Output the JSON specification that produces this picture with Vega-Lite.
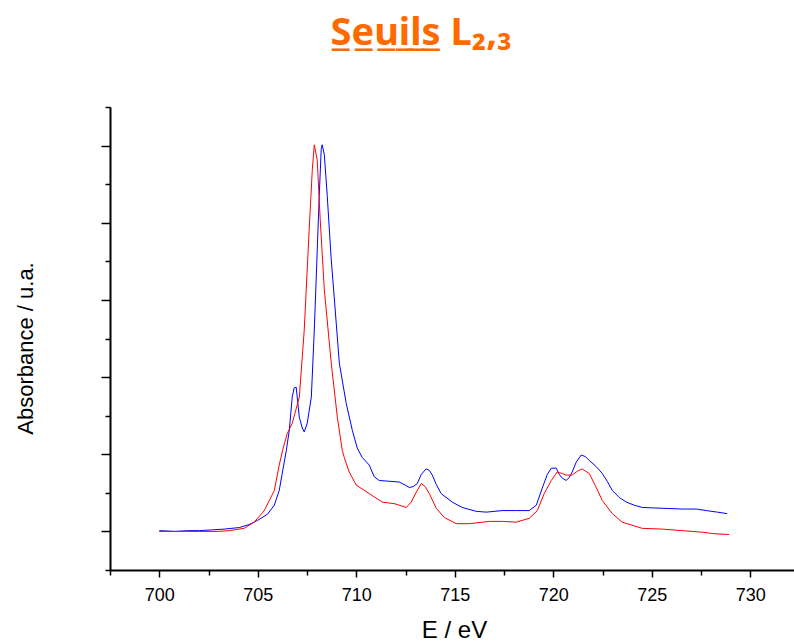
{
  "$schema": "https://vega.github.io/schema/vega-lite/v6.json",
  "width": 684,
  "height": 463,
  "autosize": {"type": "none"},
  "padding": {"left": 110, "top": 107, "right": 0, "bottom": 73},
  "background": "white",
  "config": {"view": {"stroke": null}},
  "title": {
    "text": "S̲e̲u̲i̲l̲s̲ L₂,₃",
    "font": "Noto Sans",
    "fontSize": 38,
    "fontWeight": "bold",
    "color": "#ff6a00",
    "anchor": "middle",
    "frame": "group",
    "baseline": "alphabetic",
    "offset": 23,
    "dx": -31
  },
  "datasets": {
    "spectra": [
      {"E": 700.0, "A": 0.01, "s": "bleu"},
      {"E": 700.8, "A": 0.0, "s": "bleu"},
      {"E": 701.5, "A": 0.01, "s": "bleu"},
      {"E": 702.03, "A": 0.01, "s": "bleu"},
      {"E": 702.7, "A": 0.02, "s": "bleu"},
      {"E": 703.3, "A": 0.03, "s": "bleu"},
      {"E": 704.06, "A": 0.05, "s": "bleu"},
      {"E": 704.57, "A": 0.09, "s": "bleu"},
      {"E": 704.97, "A": 0.14, "s": "bleu"},
      {"E": 705.48, "A": 0.22, "s": "bleu"},
      {"E": 705.84, "A": 0.34, "s": "bleu"},
      {"E": 706.09, "A": 0.53, "s": "bleu"},
      {"E": 706.29, "A": 0.82, "s": "bleu"},
      {"E": 706.45, "A": 1.05, "s": "bleu"},
      {"E": 706.6, "A": 1.31, "s": "bleu"},
      {"E": 706.75, "A": 1.74, "s": "bleu"},
      {"E": 706.85, "A": 1.86, "s": "bleu"},
      {"E": 706.95, "A": 1.87, "s": "bleu"},
      {"E": 707.11, "A": 1.48, "s": "bleu"},
      {"E": 707.26, "A": 1.34, "s": "bleu"},
      {"E": 707.36, "A": 1.29, "s": "bleu"},
      {"E": 707.51, "A": 1.4, "s": "bleu"},
      {"E": 707.72, "A": 1.74, "s": "bleu"},
      {"E": 707.87, "A": 2.61, "s": "bleu"},
      {"E": 708.02, "A": 3.65, "s": "bleu"},
      {"E": 708.12, "A": 4.34, "s": "bleu"},
      {"E": 708.22, "A": 4.95, "s": "bleu"},
      {"E": 708.27, "A": 5.01, "s": "bleu"},
      {"E": 708.38, "A": 4.88, "s": "bleu"},
      {"E": 708.53, "A": 4.34, "s": "bleu"},
      {"E": 708.73, "A": 3.52, "s": "bleu"},
      {"E": 708.88, "A": 3.04, "s": "bleu"},
      {"E": 709.14, "A": 2.18, "s": "bleu"},
      {"E": 709.49, "A": 1.66, "s": "bleu"},
      {"E": 709.8, "A": 1.31, "s": "bleu"},
      {"E": 710.05, "A": 1.08, "s": "bleu"},
      {"E": 710.3, "A": 0.96, "s": "bleu"},
      {"E": 710.66, "A": 0.86, "s": "bleu"},
      {"E": 710.91, "A": 0.71, "s": "bleu"},
      {"E": 711.17, "A": 0.66, "s": "bleu"},
      {"E": 711.68, "A": 0.65, "s": "bleu"},
      {"E": 712.18, "A": 0.64, "s": "bleu"},
      {"E": 712.49, "A": 0.6, "s": "bleu"},
      {"E": 712.69, "A": 0.57, "s": "bleu"},
      {"E": 712.89, "A": 0.58, "s": "bleu"},
      {"E": 713.1, "A": 0.62, "s": "bleu"},
      {"E": 713.3, "A": 0.74, "s": "bleu"},
      {"E": 713.55, "A": 0.81, "s": "bleu"},
      {"E": 713.71, "A": 0.79, "s": "bleu"},
      {"E": 713.86, "A": 0.73, "s": "bleu"},
      {"E": 714.06, "A": 0.61, "s": "bleu"},
      {"E": 714.31, "A": 0.49, "s": "bleu"},
      {"E": 714.87, "A": 0.38, "s": "bleu"},
      {"E": 715.38, "A": 0.31, "s": "bleu"},
      {"E": 716.09, "A": 0.26, "s": "bleu"},
      {"E": 716.6, "A": 0.25, "s": "bleu"},
      {"E": 717.41, "A": 0.27, "s": "bleu"},
      {"E": 718.12, "A": 0.27, "s": "bleu"},
      {"E": 718.78, "A": 0.27, "s": "bleu"},
      {"E": 719.14, "A": 0.34, "s": "bleu"},
      {"E": 719.44, "A": 0.56, "s": "bleu"},
      {"E": 719.7, "A": 0.74, "s": "bleu"},
      {"E": 719.9, "A": 0.82, "s": "bleu"},
      {"E": 720.15, "A": 0.82, "s": "bleu"},
      {"E": 720.3, "A": 0.74, "s": "bleu"},
      {"E": 720.46, "A": 0.69, "s": "bleu"},
      {"E": 720.66, "A": 0.66, "s": "bleu"},
      {"E": 720.81, "A": 0.7, "s": "bleu"},
      {"E": 720.96, "A": 0.77, "s": "bleu"},
      {"E": 721.17, "A": 0.9, "s": "bleu"},
      {"E": 721.42, "A": 0.99, "s": "bleu"},
      {"E": 721.62, "A": 0.97, "s": "bleu"},
      {"E": 721.83, "A": 0.92, "s": "bleu"},
      {"E": 722.18, "A": 0.84, "s": "bleu"},
      {"E": 722.49, "A": 0.75, "s": "bleu"},
      {"E": 722.74, "A": 0.65, "s": "bleu"},
      {"E": 723.0, "A": 0.53, "s": "bleu"},
      {"E": 723.35, "A": 0.44, "s": "bleu"},
      {"E": 723.71, "A": 0.38, "s": "bleu"},
      {"E": 724.11, "A": 0.34, "s": "bleu"},
      {"E": 724.52, "A": 0.31, "s": "bleu"},
      {"E": 725.53, "A": 0.3, "s": "bleu"},
      {"E": 726.55, "A": 0.29, "s": "bleu"},
      {"E": 727.26, "A": 0.29, "s": "bleu"},
      {"E": 727.77, "A": 0.27, "s": "bleu"},
      {"E": 728.33, "A": 0.25, "s": "bleu"},
      {"E": 728.83, "A": 0.23, "s": "bleu"},
      {"E": 700.0, "A": 0.0, "s": "rouge"},
      {"E": 701.0, "A": 0.0, "s": "rouge"},
      {"E": 702.03, "A": 0.0, "s": "rouge"},
      {"E": 703.0, "A": 0.0, "s": "rouge"},
      {"E": 703.55, "A": 0.01, "s": "rouge"},
      {"E": 704.31, "A": 0.04, "s": "rouge"},
      {"E": 704.82, "A": 0.12, "s": "rouge"},
      {"E": 705.33, "A": 0.27, "s": "rouge"},
      {"E": 705.84, "A": 0.53, "s": "rouge"},
      {"E": 706.09, "A": 0.86, "s": "rouge"},
      {"E": 706.29, "A": 1.08, "s": "rouge"},
      {"E": 706.5, "A": 1.27, "s": "rouge"},
      {"E": 706.75, "A": 1.4, "s": "rouge"},
      {"E": 707.11, "A": 1.74, "s": "rouge"},
      {"E": 707.36, "A": 2.61, "s": "rouge"},
      {"E": 707.61, "A": 3.91, "s": "rouge"},
      {"E": 707.77, "A": 4.69, "s": "rouge"},
      {"E": 707.87, "A": 5.01, "s": "rouge"},
      {"E": 708.02, "A": 4.81, "s": "rouge"},
      {"E": 708.17, "A": 4.04, "s": "rouge"},
      {"E": 708.38, "A": 3.13, "s": "rouge"},
      {"E": 708.73, "A": 2.18, "s": "rouge"},
      {"E": 709.04, "A": 1.48, "s": "rouge"},
      {"E": 709.29, "A": 1.05, "s": "rouge"},
      {"E": 709.39, "A": 0.96, "s": "rouge"},
      {"E": 709.64, "A": 0.77, "s": "rouge"},
      {"E": 710.0, "A": 0.6, "s": "rouge"},
      {"E": 710.66, "A": 0.49, "s": "rouge"},
      {"E": 711.32, "A": 0.38, "s": "rouge"},
      {"E": 711.93, "A": 0.36, "s": "rouge"},
      {"E": 712.54, "A": 0.31, "s": "rouge"},
      {"E": 712.79, "A": 0.38, "s": "rouge"},
      {"E": 713.05, "A": 0.51, "s": "rouge"},
      {"E": 713.3, "A": 0.62, "s": "rouge"},
      {"E": 713.5, "A": 0.58, "s": "rouge"},
      {"E": 713.71, "A": 0.49, "s": "rouge"},
      {"E": 714.06, "A": 0.3, "s": "rouge"},
      {"E": 714.47, "A": 0.18, "s": "rouge"},
      {"E": 715.08, "A": 0.1, "s": "rouge"},
      {"E": 715.74, "A": 0.1, "s": "rouge"},
      {"E": 716.75, "A": 0.13, "s": "rouge"},
      {"E": 717.41, "A": 0.13, "s": "rouge"},
      {"E": 718.12, "A": 0.12, "s": "rouge"},
      {"E": 718.78, "A": 0.17, "s": "rouge"},
      {"E": 719.19, "A": 0.27, "s": "rouge"},
      {"E": 719.54, "A": 0.49, "s": "rouge"},
      {"E": 719.9, "A": 0.66, "s": "rouge"},
      {"E": 720.2, "A": 0.77, "s": "rouge"},
      {"E": 720.46, "A": 0.75, "s": "rouge"},
      {"E": 720.66, "A": 0.73, "s": "rouge"},
      {"E": 720.96, "A": 0.73, "s": "rouge"},
      {"E": 721.22, "A": 0.78, "s": "rouge"},
      {"E": 721.47, "A": 0.81, "s": "rouge"},
      {"E": 721.83, "A": 0.75, "s": "rouge"},
      {"E": 722.18, "A": 0.57, "s": "rouge"},
      {"E": 722.49, "A": 0.4, "s": "rouge"},
      {"E": 723.0, "A": 0.23, "s": "rouge"},
      {"E": 723.5, "A": 0.12, "s": "rouge"},
      {"E": 724.52, "A": 0.04, "s": "rouge"},
      {"E": 725.53, "A": 0.03, "s": "rouge"},
      {"E": 726.55, "A": 0.01, "s": "rouge"},
      {"E": 727.56, "A": -0.01, "s": "rouge"},
      {"E": 728.17, "A": -0.03, "s": "rouge"},
      {"E": 728.93, "A": -0.04, "s": "rouge"}
    ]
  },
  "data": {"name": "spectra"},
  "resolve": {"axis": {"x": "independent", "y": "independent"}},
  "layer": [
    {
      "mark": {"type": "line", "strokeOpacity": 0},
      "encoding": {
        "x": {
          "field": "E", "type": "quantitative",
          "scale": {"domain": [697.5, 732.22], "nice": false, "zero": false},
          "axis": {
            "orient": "bottom", "values": [697.5, 702.5, 707.5, 712.5, 717.5, 722.5, 727.5],
            "labels": false, "title": null, "grid": false, "domain": false,
            "tickSize": 5, "tickWidth": 1.5, "tickColor": "black"
          }
        },
        "y": {
          "field": "A", "type": "quantitative",
          "scale": {"domain": [-0.5, 5.5], "nice": false, "zero": false},
          "axis": {
            "orient": "left", "values": [-0.5, 0.5, 1.5, 2.5, 3.5, 4.5, 5.5],
            "labels": false, "title": null, "grid": false, "domain": false,
            "tickSize": 5, "tickWidth": 1.5, "tickColor": "black"
          }
        },
        "detail": {"field": "s"}
      }
    },
    {
      "mark": {"type": "line", "strokeWidth": 1, "clip": true},
      "encoding": {
        "x": {
          "field": "E", "type": "quantitative",
          "axis": {
            "orient": "bottom", "values": [700, 705, 710, 715, 720, 725, 730],
            "title": "E / eV", "grid": false,
            "domainColor": "black", "domainWidth": 2,
            "tickSize": 7, "tickWidth": 1.5, "tickColor": "black",
            "labelFont": "Liberation Sans", "labelFontSize": 18, "labelColor": "black",
            "labelPadding": 9,
            "titleFont": "Liberation Sans", "titleFontSize": 24, "titleFontWeight": "normal",
            "titleColor": "black", "titleBaseline": "middle", "titleY": 60, "titleX": 344
          }
        },
        "y": {
          "field": "A", "type": "quantitative",
          "axis": {
            "orient": "left", "values": [0, 1, 2, 3, 4, 5],
            "labels": false, "grid": false, "title": "Absorbance / u.a.",
            "domainColor": "black", "domainWidth": 2,
            "tickSize": 9, "tickWidth": 1.5, "tickColor": "black",
            "titleFont": "Liberation Sans", "titleFontSize": 22, "titleFontWeight": "normal",
            "titleColor": "black", "titleAngle": 270, "titleBaseline": "middle",
            "titleAlign": "center", "titleX": -85, "titleY": 241
          }
        },
        "color": {
          "field": "s", "type": "nominal",
          "scale": {"domain": ["bleu", "rouge"], "range": ["#0000ff", "#ff0000"]},
          "legend": null
        }
      }
    }
  ]
}
